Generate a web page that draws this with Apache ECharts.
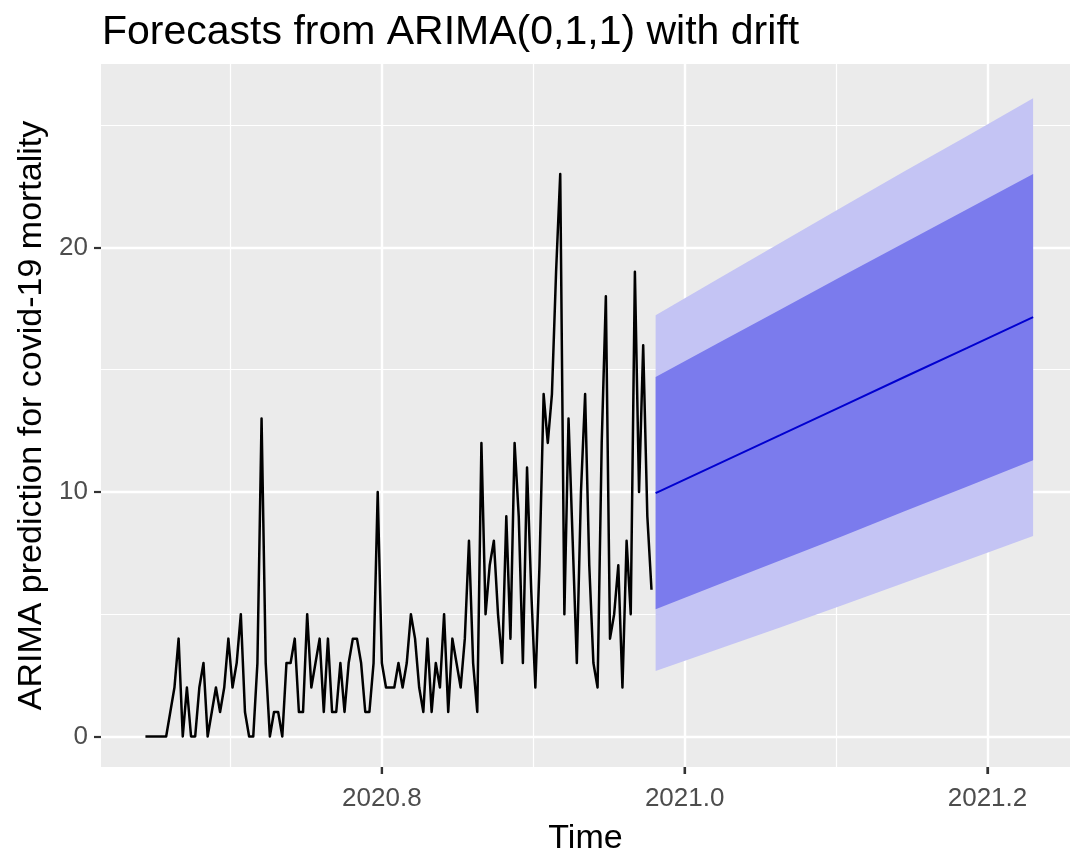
<!DOCTYPE html>
<html><head><meta charset="utf-8">
<script src="https://cdn.jsdelivr.net/npm/echarts@6/dist/echarts.min.js"></script>
<style>html,body{margin:0;padding:0;background:#fff}#c{width:1070px;height:861px}</style>
</head><body><div id="c"></div>
<script>
// observed daily series (time = 2020 + day/365)
const firstDay = 235;
const observed = [
 0,0,0,0,0,0,1,2,4,0,
 2,0,0,2,3,0,1,2,1,2,
 4,2,3,5,1,0,0,3,13,3,
 0,1,1,0,3,3,4,1,1,5,
 2,3,4,1,4,1,1,3,1,3,
 4,4,3,1,1,3,10,3,2,2,
 2,3,2,3,5,4,2,1,4,1,
 3,2,5,1,4,3,2,4,8,3,
 1,12,5,7,8,5,3,9,4,12,
 9,3,11,6,2,7,14,12,14,19,
 23,5,13,8,3,10,14,7,3,2,
 12,18,4,5,7,2,8,5,19,10,
 16,9,6
];
// forecast readings at selected days
const fcDay  = [358, 373, 388, 403, 418, 433, 449];
const fcMean = [9.95, 11.14, 12.32, 13.51, 14.70, 15.88, 17.15];
const fcUp80 = [14.70, 16.08, 17.45, 18.83, 20.19, 21.55, 23.00];
const fcLo80 = [5.20, 6.20, 7.19, 8.19, 9.21, 10.21, 11.30];
const fcUp95 = [17.22, 18.71, 20.18, 21.65, 23.11, 24.55, 26.10];
const fcLo95 = [2.68, 3.57, 4.46, 5.37, 6.29, 7.21, 8.20];
// axes
const xTicks = [2020.8, 2021.0, 2021.2];
const xMinor = [2020.7, 2020.9, 2021.1];
const yTicks = [0, 10, 20];
const yMinor = [5, 15, 25];

const toYear = d => 2020 + d / 365;
const obsData = observed.map((v, i) => [toYear(firstDay + i), v]);
const meanData = fcMean.map((v, i) => [toYear(fcDay[i]), v]);

const FONT = '"Liberation Sans", Arial, sans-serif';
const X_MIN = 2020.6145, X_MAX = 2021.2545;
const Y_MIN = -1.25, Y_MAX = 27.5;

function band(up, lo, color, z) {
  return {
    type: 'custom', z: z, silent: true,
    data: [[toYear(fcDay[0]), lo[0]]],
    renderItem: function (params, api) {
      const pts = [];
      for (let i = 0; i < fcDay.length; i++) pts.push(api.coord([toYear(fcDay[i]), up[i]]));
      for (let i = fcDay.length - 1; i >= 0; i--) pts.push(api.coord([toYear(fcDay[i]), lo[i]]));
      return { type: 'polygon', shape: { points: pts }, style: { fill: color } };
    }
  };
}

const chart = echarts.init(document.getElementById('c'), null, { renderer: 'canvas' });
chart.setOption({
  animation: false,
  backgroundColor: '#ffffff',
  title: {
    text: 'Forecasts from ARIMA(0,1,1) with drift',
    left: 97, top: 7,
    textStyle: { fontFamily: FONT, fontSize: 41, fontWeight: 'normal', color: '#000' }
  },
  grid: { left: 101, top: 64, right: 0, bottom: 90, show: true, backgroundColor: '#EBEBEB', borderWidth: 0 },
  xAxis: [{
    type: 'value', min: X_MIN, max: X_MAX, position: 'bottom',
    axisLine: { show: true, onZero: false, lineStyle: { color: 'rgba(0,0,0,0)', width: 0 } },
    axisTick: { show: true, length: 7, customValues: xTicks, lineStyle: { color: '#333333', width: 2.2 } },
    axisLabel: { customValues: xTicks, formatter: v => v.toFixed(1), margin: 19,
      fontFamily: FONT, fontSize: 26, color: '#4D4D4D' },
    splitLine: { show: true, lineStyle: { color: '#ffffff', width: 2.4 } },
    name: 'Time', nameLocation: 'middle', nameGap: 55,
    nameTextStyle: { fontFamily: FONT, fontSize: 34, color: '#000' }
  }, {
    type: 'value', min: X_MIN, max: X_MAX, position: 'top',
    axisLine: { show: false, onZero: false },
    axisTick: { show: false, customValues: xMinor },
    axisLabel: { show: false, customValues: xMinor },
    splitLine: { show: true, lineStyle: { color: '#ffffff', width: 1.2 } }
  }],
  yAxis: [{
    type: 'value', min: Y_MIN, max: Y_MAX, position: 'left',
    axisLine: { show: false, onZero: false },
    axisTick: { show: true, length: 7, customValues: yTicks, lineStyle: { color: '#333333', width: 2.2 } },
    axisLabel: { customValues: yTicks, formatter: v => String(v), margin: 13,
      fontFamily: FONT, fontSize: 26, color: '#4D4D4D' },
    splitLine: { show: true, lineStyle: { color: '#ffffff', width: 2.4 } },
    name: 'ARIMA prediction for covid-19 mortality', nameLocation: 'middle', nameGap: 52, nameRotate: 90,
    nameTextStyle: { fontFamily: FONT, fontSize: 34, color: '#000' }
  }, {
    type: 'value', min: Y_MIN, max: Y_MAX, position: 'right',
    axisLine: { show: false, onZero: false },
    axisTick: { show: false, customValues: yMinor },
    axisLabel: { show: false, customValues: yMinor },
    splitLine: { show: true, lineStyle: { color: '#ffffff', width: 1.2 } }
  }],
  series: [
    band(fcUp95, fcLo95, '#C4C4F4', 3),
    band(fcUp80, fcLo80, '#7B7BED', 4),
    {
      type: 'line', data: meanData, z: 5, symbol: 'none', silent: true,
      lineStyle: { color: '#0000D0', width: 2 }
    },
    {
      type: 'line', data: obsData, z: 6, symbol: 'none', silent: true,
      lineStyle: { color: '#000000', width: 2.5, join: 'round' }
    },
    {
      // x-axis tick marks below the panel, placed through the axis scale
      type: 'custom', z: 10, silent: true, clip: false,
      data: xTicks.map(v => [v, Y_MIN]),
      renderItem: function (params, api) {
        const p = api.coord([api.value(0), api.value(1)]);
        return { type: 'line', shape: { x1: p[0], y1: p[1], x2: p[0], y2: p[1] + 7 },
          style: { stroke: '#333333', lineWidth: 2.2 } };
      }
    }
  ]
});
</script>
</body></html>
